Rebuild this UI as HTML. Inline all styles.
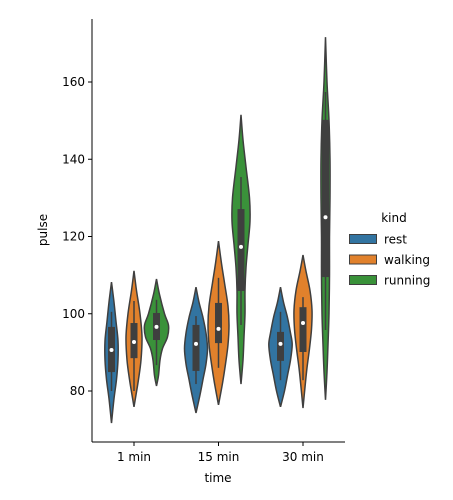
<!DOCTYPE html>
<html><head><meta charset="utf-8"><style>
body{margin:0;background:#fff}
svg{display:block;font-family:"DejaVu Sans","Liberation Sans",sans-serif}
</style></head><body>
<svg id="chart" width="453" height="500"></svg>
<script>
const categories=["1 min","15 min","30 min"];
const hues=["rest","walking","running"];
const yTicks=[80,100,120,140,160];
// violin profiles: values (pulse) and relative density widths
const profVals=[
 [[108.2,103,98,93,88,83,78,71.7],[111.1,106,100,94,88,83,79,75.9],[109,105,100,97,94,91,88,84,81.3]],
 [[106.9,103,99,95,91,87,83,79,74.3],[118.8,113,108,102,97,92,87,82,76.4],[151.5,145,138,130,124,118,112,106,100,94,88,81.8]],
 [[106.9,103,99,95,92,88,84,80,75.9],[115.2,111,106,101,96,91,86,81,75.6],[171.6,160,150,140,130,120,110,100,92,85,77.7]]
];
const profDens=[
 [[0,2.5,4.5,6.5,6.5,5,2.5,0],[0,2.5,6,8,7,4.5,2,0],[0,3,8,12,11,6,3.5,2,0]],
 [[0,3,7,10,11.5,10,7,4,0],[0,3,6,9.5,10.5,9.5,7,4,0],[0,2,5,8.5,9,7,5,4,4,3,2,0]],
 [[0,3,7,10,11.7,10,7,4,0],[0,3,7,9,8.5,6.5,4,2,0],[0,1.5,3.5,4.5,4.5,4,4,3.5,2.5,1.5,0]]
];
// box stats: [whiskerLow, q1, median, q3, whiskerHigh]
const boxStats=[
 [[80,84.9,90.6,96.6,100.5],[80,88.5,92.7,97.6,103.3],[86.7,93.2,96.6,100.2,103.6]],
 [[81.8,85.2,92.2,97.1,99.4],[86,92.4,96.1,102.8,109.3],[97.1,105.9,117.3,127.1,135.4]],
 [[82.8,87.8,92.2,95.3,100.5],[82.8,90.1,97.6,101.7,104.3],[95.8,109.5,125,150.2,157.4]]
];
const colors=["#3274a1","#e1812c","#3a923a"];
const NS="http://www.w3.org/2000/svg";
const svg=document.getElementById("chart");
const L=92,R=345,T=19,B=442;
const yS=v=>391-(v-80)*3.8625;
const xS=i=>134+i*84.5;
const hueOff=h=>(h-1)*22.5;
function el(t,a,p){const e=document.createElementNS(NS,t);for(const k in a)e.setAttribute(k,a[k]);(p||svg).appendChild(e);return e;}
function smooth(pts){let d="M"+pts[0][0]+","+pts[0][1];for(let i=0;i<pts.length-1;i++){const p0=pts[Math.max(i-1,0)],p1=pts[i],p2=pts[i+1],p3=pts[Math.min(i+2,pts.length-1)];
 d+=" C"+(p1[0]+(p2[0]-p0[0])/6)+","+(p1[1]+(p2[1]-p0[1])/6)+" "+(p2[0]-(p3[0]-p1[0])/6)+","+(p2[1]-(p3[1]-p1[1])/6)+" "+p2[0]+","+p2[1];}return d;}
categories.forEach((c,ci)=>{hues.forEach((h,hi)=>{
 const cx=xS(ci)+hueOff(hi);const vals=profVals[ci][hi],dens=profDens[ci][hi];
 const right=vals.map((v,i)=>[cx+dens[i],yS(v)]);
 const left=vals.map((v,i)=>[cx-dens[i],yS(v)]).reverse();
 let d=smooth(right)+" L"+left[0][0]+","+left[0][1]+smooth(left).replace(/^M[^ C]+/,"")+" Z";
 const p=el("path",{d:d,fill:colors[hi],stroke:"#3f3f3f","stroke-width":1.5});
 
 
 const b=boxStats[ci][hi];
 const w=el("line",{x1:cx,x2:cx,y1:yS(b[0]),y2:yS(b[4]),stroke:"#3f3f3f","stroke-width":1.5});
 
 
 const bx=el("rect",{x:cx-3.5,y:yS(b[3]),width:7,height:yS(b[1])-yS(b[3]),fill:"#3f3f3f"});
 
 
 const m=el("circle",{cx:cx,cy:yS(b[2]),r:2,fill:"#fff"});
 
 
});
 const t=el("line",{x1:xS(ci),x2:xS(ci),y1:B,y2:B+4,stroke:"#000","stroke-width":1});
 
 
 const tl=el("text",{x:xS(ci),y:B+19,"text-anchor":"middle","font-size":12});tl.textContent=c;
 
 
});
yTicks.forEach(v=>{
 const t=el("line",{x1:L-4,x2:L,y1:yS(v),y2:yS(v),stroke:"#000","stroke-width":1});
 
 
 const tl=el("text",{x:L-7,y:yS(v)+4,"text-anchor":"end","font-size":12});tl.textContent=v;
 
 
});
const sp1=el("line",{x1:L,x2:L,y1:T,y2:B,stroke:"#000","stroke-width":1});


const sp2=el("line",{x1:L,x2:R,y1:B,y2:B,stroke:"#000","stroke-width":1});


const xt=el("text",{x:218,y:482,"text-anchor":"middle","font-size":12});xt.textContent="time";


const yt=el("text",{x:47,y:230,"text-anchor":"middle","font-size":12,transform:"rotate(-90 47 230)"});yt.textContent="pulse";


const lt=el("text",{x:394,y:222,"text-anchor":"middle","font-size":12});lt.textContent="kind";


hues.forEach((h,i)=>{
 const y=239+i*20.5;
 const r=el("rect",{x:349.5,y:y-4.5,width:27,height:9,fill:colors[i],stroke:"#3f3f3f","stroke-width":1});
 
 
 const t=el("text",{x:384,y:y+4.5,"font-size":12});t.textContent=h;
 
 
});
</script>
</body></html>
